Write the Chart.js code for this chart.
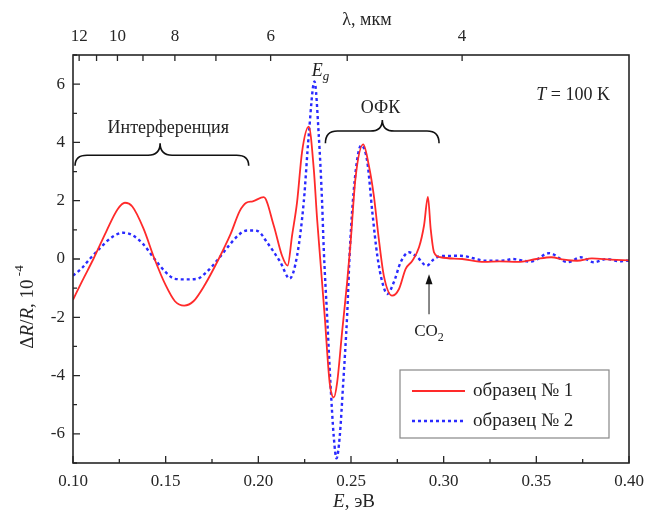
<!DOCTYPE html>
<html>
<head>
<meta charset="utf-8">
<script src="https://cdn.jsdelivr.net/npm/chart.js@4.4.1/dist/chart.umd.min.js"></script>
<style>
  html, body { margin: 0; padding: 0; background: #fff; }
  #wrap { width: 659px; height: 515px; }
</style>
</head>
<body>
<div id="wrap"><canvas id="specChart" width="659" height="515"></canvas></div>
<script>
// sample 1 (red, solid)
const energy1 = [0.100, 0.105, 0.111, 0.118, 0.124, 0.128, 0.132, 0.138, 0.144, 0.150,
  0.155, 0.160, 0.165, 0.171, 0.1786, 0.185, 0.190, 0.1935, 0.197, 0.2029, 0.2083,
  0.2128, 0.2158, 0.2182, 0.2209, 0.2236, 0.2272, 0.2299, 0.2317, 0.2334, 0.2358,
  0.2385, 0.2407, 0.2425, 0.2452, 0.2479, 0.2497, 0.2524, 0.2566, 0.2596, 0.2623,
  0.265, 0.2677, 0.2722, 0.2759, 0.2795, 0.2831, 0.2867, 0.2894, 0.2915, 0.293,
  0.2948, 0.2984, 0.310, 0.322, 0.330, 0.340, 0.350, 0.358, 0.365, 0.372,
  0.380, 0.390, 0.400];
const signal1 = [-1.40, -0.75, 0.00, 0.95, 1.70, 1.93, 1.80, 1.05, 0.00, -0.90,
  -1.45, -1.60, -1.45, -0.90, 0.00, 0.85, 1.65, 1.93, 1.98, 2.12, 1.15,
  0.11, -0.23, 0.80, 1.95, 3.68, 4.54, 3.10, 1.38, 0.00, -1.95,
  -4.25, -4.75, -4.25, -2.50, -0.80, 0.50, 2.76, 3.93, 3.22, 2.18,
  0.69, -0.57, -1.26, -1.03, -0.34, -0.06, 0.40, 1.15, 2.13, 1.03,
  0.23, 0.06, 0.00, -0.10, -0.08, -0.10, 0.00, 0.06, -0.02, -0.06,
  0.02, -0.02, -0.05];

// sample 2 (blue, dashed)
const energy2 = [0.100, 0.105, 0.109, 0.115, 0.121, 0.127, 0.132, 0.138, 0.144, 0.150,
  0.155, 0.161, 0.167, 0.172, 0.1784, 0.184, 0.189, 0.193, 0.197, 0.200,
  0.2047, 0.2119, 0.2169, 0.2209, 0.2245, 0.2272, 0.2303, 0.2326, 0.2344, 0.2353,
  0.2371, 0.2389, 0.2407, 0.2422, 0.2439, 0.2458, 0.2479, 0.2494, 0.252, 0.2555,
  0.2588, 0.2615, 0.2642, 0.2669, 0.2696, 0.2731, 0.2768, 0.2813, 0.2858, 0.2908,
  0.2948, 0.2984, 0.309, 0.323, 0.333, 0.337, 0.347, 0.357, 0.367, 0.374,
  0.381, 0.388, 0.395, 0.400];
const signal2 = [-0.57, -0.30, 0.00, 0.40, 0.75, 0.90, 0.82, 0.50, 0.00, -0.45,
  -0.68, -0.70, -0.68, -0.45, 0.00, 0.45, 0.80, 0.97, 0.98, 0.95,
  0.57, -0.11, -0.67, 0.11, 1.95, 4.25, 6.09, 4.25, 1.95, 0.34,
  -1.95, -4.25, -6.10, -6.84, -6.10, -4.25, -1.95, 0.34, 2.70, 3.90,
  3.33, 1.61, 0.11, -0.80, -1.20, -0.80, -0.11, 0.23, 0.06, -0.23,
  0.00, 0.10, 0.11, -0.06, -0.05, 0.00, -0.09, 0.20, -0.11, 0.06,
  -0.11, 0.00, -0.08, -0.05];

const seriesNames = ['образец № 1', 'образец № 2'];

// top axis: wavelength in µm, E = hc / λ
const HC = 1.2398;
const waveTicks = [12, 11, 10, 9, 8, 7, 6, 5, 4];
const waveLabels = ['12', '', '10', '', '8', '', '6', '', '4'];

const SERIF = '"Liberation Serif", "DejaVu Serif", serif';
const INK = '#262626';

function toPoints(xs, ys) {
  return xs.map((x, i) => ({ x: x, y: ys[i] }));
}

function isMultiple(v, step) {
  const q = v / step;
  return Math.abs(q - Math.round(q)) < 1e-6;
}

// draws a horizontal curly brace, tip pointing up
function brace(ctx, x1, x2, yEnd, yMid, yTip, xc) {
  const r = 12;
  ctx.beginPath();
  ctx.moveTo(x1, yEnd);
  ctx.quadraticCurveTo(x1, yMid, x1 + r, yMid);
  ctx.lineTo(xc - r, yMid);
  ctx.quadraticCurveTo(xc, yMid, xc, yTip);
  ctx.quadraticCurveTo(xc, yMid, xc + r, yMid);
  ctx.lineTo(x2 - r, yMid);
  ctx.quadraticCurveTo(x2, yMid, x2, yEnd);
  ctx.stroke();
}

// draws a run of text pieces [text, style, dy, size]
function richText(ctx, parts, x, y, align) {
  let w = 0;
  parts.forEach(p => {
    ctx.font = (p[1] || '') + ' ' + (p[3] || 18) + 'px ' + SERIF;
    w += ctx.measureText(p[0]).width;
  });
  let cx = align === 'center' ? x - w / 2 : (align === 'right' ? x - w : x);
  ctx.textAlign = 'left';
  ctx.textBaseline = 'middle';
  parts.forEach(p => {
    ctx.font = (p[1] || '') + ' ' + (p[3] || 18) + 'px ' + SERIF;
    ctx.fillText(p[0], cx, y + (p[2] || 0));
    cx += ctx.measureText(p[0]).width;
  });
}

const decorPlugin = {
  id: 'decor',
  afterDraw(chart) {
    const ctx = chart.ctx;
    const a = chart.chartArea;
    const xs = chart.scales.x;
    const ys = chart.scales.y;
    const xt = chart.scales.xTop;
    const px = v => xs.getPixelForValue(v);
    const py = v => ys.getPixelForValue(v);

    ctx.save();
    ctx.strokeStyle = INK;
    ctx.fillStyle = INK;
    ctx.lineWidth = 1.6;
    ctx.strokeRect(a.left, a.top, a.right - a.left, a.bottom - a.top);

    // inner tick marks
    ctx.lineWidth = 1.3;
    ctx.beginPath();
    xs.ticks.forEach(t => {
      const x = px(t.value);
      const len = isMultiple(t.value, 0.05) ? 7 : 4;
      ctx.moveTo(x, a.bottom);
      ctx.lineTo(x, a.bottom - len);
    });
    ys.ticks.forEach(t => {
      const y = py(t.value);
      const len = isMultiple(t.value, 2) ? 7 : 4;
      ctx.moveTo(a.left, y);
      ctx.lineTo(a.left + len, y);
    });
    xt.ticks.forEach(t => {
      const x = xt.getPixelForValue(t.value);
      ctx.moveTo(x, a.top);
      ctx.lineTo(x, a.top + 6);
    });
    ctx.stroke();

    // axis titles
    richText(ctx, [['λ, мкм', '', 0, 18]], 367, 20, 'center');
    richText(ctx, [['E', 'italic', 0, 19], [', эВ', '', 0, 19]], 354, 502, 'center');
    ctx.save();
    ctx.translate(28, 307);
    ctx.rotate(-Math.PI / 2);
    richText(ctx, [['Δ', '', 0, 19], ['R', 'italic', 0, 19], ['/', '', 0, 19], ['R', 'italic', 0, 19],
      [', 10', '', 0, 19], [' -4', '', -8, 13]], 0, 0, 'center');
    ctx.restore();

    // annotations
    ctx.lineWidth = 1.6;
    ctx.strokeStyle = '#111';
    brace(ctx, px(0.1011), px(0.1948), py(3.2), py(3.56), py(3.97), px(0.147));
    brace(ctx, px(0.2362), px(0.2975), py(3.97), py(4.39), py(4.77), px(0.2669));
    ctx.fillStyle = '#222';
    richText(ctx, [['Интерференция', '', 0, 18]], px(0.1514), py(4.48), 'center');
    richText(ctx, [['ОФК', '', 0, 18]], px(0.2659), py(5.17), 'center');
    richText(ctx, [['E', 'italic', 0, 18], ['g', 'italic', 6, 13]], px(0.2335), py(6.45), 'center');
    richText(ctx, [['T', 'italic', 0, 18], [' = 100 K', '', 0, 18]], px(0.3897), py(5.63), 'right');
    richText(ctx, [['CO', '', 0, 17], ['2', '', 6, 12]], px(0.2921), py(-2.5), 'center');

    // CO2 arrow
    const ax = px(0.2921);
    const ay1 = py(-1.9), ay2 = py(-0.52);
    ctx.strokeStyle = '#555';
    ctx.lineWidth = 1.4;
    ctx.beginPath();
    ctx.moveTo(ax, ay1);
    ctx.lineTo(ax, ay2 + 6);
    ctx.stroke();
    ctx.fillStyle = '#111';
    ctx.beginPath();
    ctx.moveTo(ax, ay2);
    ctx.lineTo(ax - 3.5, ay2 + 10);
    ctx.lineTo(ax + 3.5, ay2 + 10);
    ctx.closePath();
    ctx.fill();

    // legend box
    const lx = 400, ly = 370, lw = 209, lh = 68;
    ctx.fillStyle = '#fff';
    ctx.fillRect(lx, ly, lw, lh);
    ctx.strokeStyle = '#888';
    ctx.lineWidth = 1.2;
    ctx.strokeRect(lx, ly, lw, lh);
    chart.data.datasets.forEach((ds, i) => {
      const y = ly + 21 + i * 30;
      ctx.strokeStyle = ds.borderColor;
      ctx.lineWidth = ds.borderWidth;
      ctx.setLineDash(ds.borderDash || []);
      ctx.beginPath();
      ctx.moveTo(412, y);
      ctx.lineTo(465, y);
      ctx.stroke();
      ctx.setLineDash([]);
      ctx.fillStyle = '#222';
      richText(ctx, [[ds.label, '', 0, 19]], 473, y, 'left');
    });
    ctx.restore();
  }
};

const ctx = document.getElementById('specChart').getContext('2d');
const specChart = new Chart(ctx, {
  type: 'line',
  data: {
    datasets: [{
      label: seriesNames[0],
      data: toPoints(energy1, signal1),
      borderColor: '#ff2a2a',
      borderWidth: 1.8,
      pointRadius: 0,
      cubicInterpolationMode: 'monotone',
      order: 1
    }, {
      label: seriesNames[1],
      data: toPoints(energy2, signal2),
      borderColor: '#2a2aff',
      borderWidth: 2.4,
      borderDash: [3, 3],
      pointRadius: 0,
      cubicInterpolationMode: 'monotone',
      order: 2
    }]
  },
  options: {
    responsive: false,
    animation: false,
    layout: { padding: { left: 0, right: 30, top: 0, bottom: 0 } },
    plugins: {
      legend: { display: false },
      tooltip: { enabled: false }
    },
    scales: {
      x: {
        type: 'linear',
        position: 'bottom',
        min: 0.1,
        max: 0.4,
        grid: { display: false, drawTicks: false },
        border: { display: false },
        afterFit: s => { s.height = 52; },
        ticks: {
          stepSize: 0.025,
          autoSkip: false,
          maxRotation: 0,
          padding: 8,
          color: INK,
          font: { family: SERIF, size: 17 },
          callback: v => isMultiple(v, 0.05) ? v.toFixed(2) : ''
        }
      },
      xTop: {
        type: 'linear',
        position: 'top',
        min: 0.1,
        max: 0.4,
        grid: { display: false, drawTicks: false },
        border: { display: false },
        afterFit: s => { s.height = 55; },
        afterBuildTicks: s => {
          s.ticks = waveTicks.map(l => ({ value: HC / l }));
        },
        ticks: {
          autoSkip: false,
          maxRotation: 0,
          padding: 8,
          color: INK,
          font: { family: SERIF, size: 17 },
          callback: (v, i) => waveLabels[i]
        }
      },
      y: {
        min: -7,
        max: 7,
        grid: { display: false, drawTicks: false },
        border: { display: false },
        afterFit: s => { s.width = 73; },
        ticks: {
          stepSize: 1,
          autoSkip: false,
          padding: 8,
          color: INK,
          font: { family: SERIF, size: 17 },
          callback: v => isMultiple(v, 2) ? String(v) : ''
        }
      }
    }
  },
  plugins: [decorPlugin]
});
</script>
</body>
</html>
